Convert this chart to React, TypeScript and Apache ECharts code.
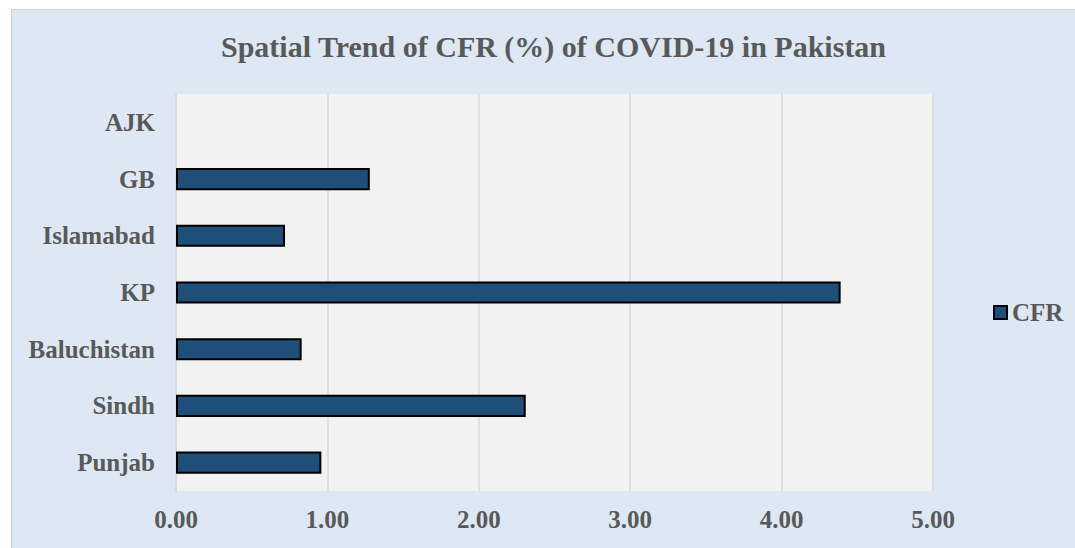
import React, { useEffect, useRef } from "react";
import * as echarts from "echarts";

const categories = ["Punjab", "Sindh", "Baluchistan", "KP", "Islamabad", "GB", "AJK"];
const cfrValues: (number | null)[] = [0.96, 2.31, 0.83, 4.39, 0.72, 1.28, null];
const xTicks = [0, 1, 2, 3, 4, 5];
const titleText = "Spatial Trend of CFR (%) of COVID-19 in Pakistan";
const seriesName = "CFR";

const FONT = "'Liberation Serif', 'Times New Roman', serif";
const TEXT = "#595959";

export default function App() {
  const ref = useRef<HTMLDivElement>(null);
  useEffect(() => {
    document.body.style.overflow = "hidden";
    const chart = echarts.init(ref.current!, undefined, { renderer: "svg" });
    chart.setOption({
      animation: false,
      backgroundColor: "#dde8f4",
      textStyle: { fontFamily: FONT },
      title: {
        text: titleText,
        left: 204,
        top: 16,
        textStyle: { fontFamily: FONT, fontSize: 30, fontWeight: "bold", color: TEXT },
      },
      legend: {
        data: [seriesName],
        icon: "rect",
        orient: "vertical",
        left: 976,
        top: 285,
        itemWidth: 13,
        itemHeight: 13,
        itemGap: 6,
        textStyle: { fontFamily: FONT, fontSize: 25, fontWeight: "bold", color: TEXT },
      },
      grid: {
        left: 164,
        right: 142,
        top: 84,
        bottom: 57,
        show: true,
        backgroundColor: "#f2f2f2",
        borderWidth: 0,
      },
      xAxis: {
        type: "value",
        min: xTicks[0],
        max: xTicks[xTicks.length - 1],
        interval: 1,
        axisLine: { show: false },
        axisTick: { show: false },
        splitLine: { show: true, lineStyle: { color: "#d9d9d9", width: 1.5 } },
        axisLabel: {
          margin: 16,
          fontFamily: FONT,
          fontSize: 25,
          fontWeight: "bold",
          color: TEXT,
          formatter: (v: number) => v.toFixed(2),
        },
      },
      yAxis: {
        type: "category",
        data: categories,
        axisLine: { show: true, lineStyle: { color: "#d9d9d9", width: 1.5 } },
        axisTick: { show: false },
        axisLabel: {
          margin: 21,
          fontFamily: FONT,
          fontSize: 25,
          fontWeight: "bold",
          color: TEXT,
        },
      },
      series: [
        {
          name: seriesName,
          type: "bar",
          data: cfrValues,
          barCategoryGap: "61%",
          itemStyle: { color: "#1f4e79", borderColor: "#000000", borderWidth: 2 },
        },
      ],
    });
    return () => chart.dispose();
  }, []);
  return (
    <div
      style={{
        position: "absolute",
        left: 11,
        top: 9,
        width: 1064,
        height: 539,
        boxSizing: "border-box",
        borderTop: "1px solid #d0d0d0",
        borderLeft: "1px solid #d0d0d0",
        background: "#dde8f4",
      }}
    >
      <div ref={ref} style={{ width: 1063, height: 538 }} />
    </div>
  );
}
